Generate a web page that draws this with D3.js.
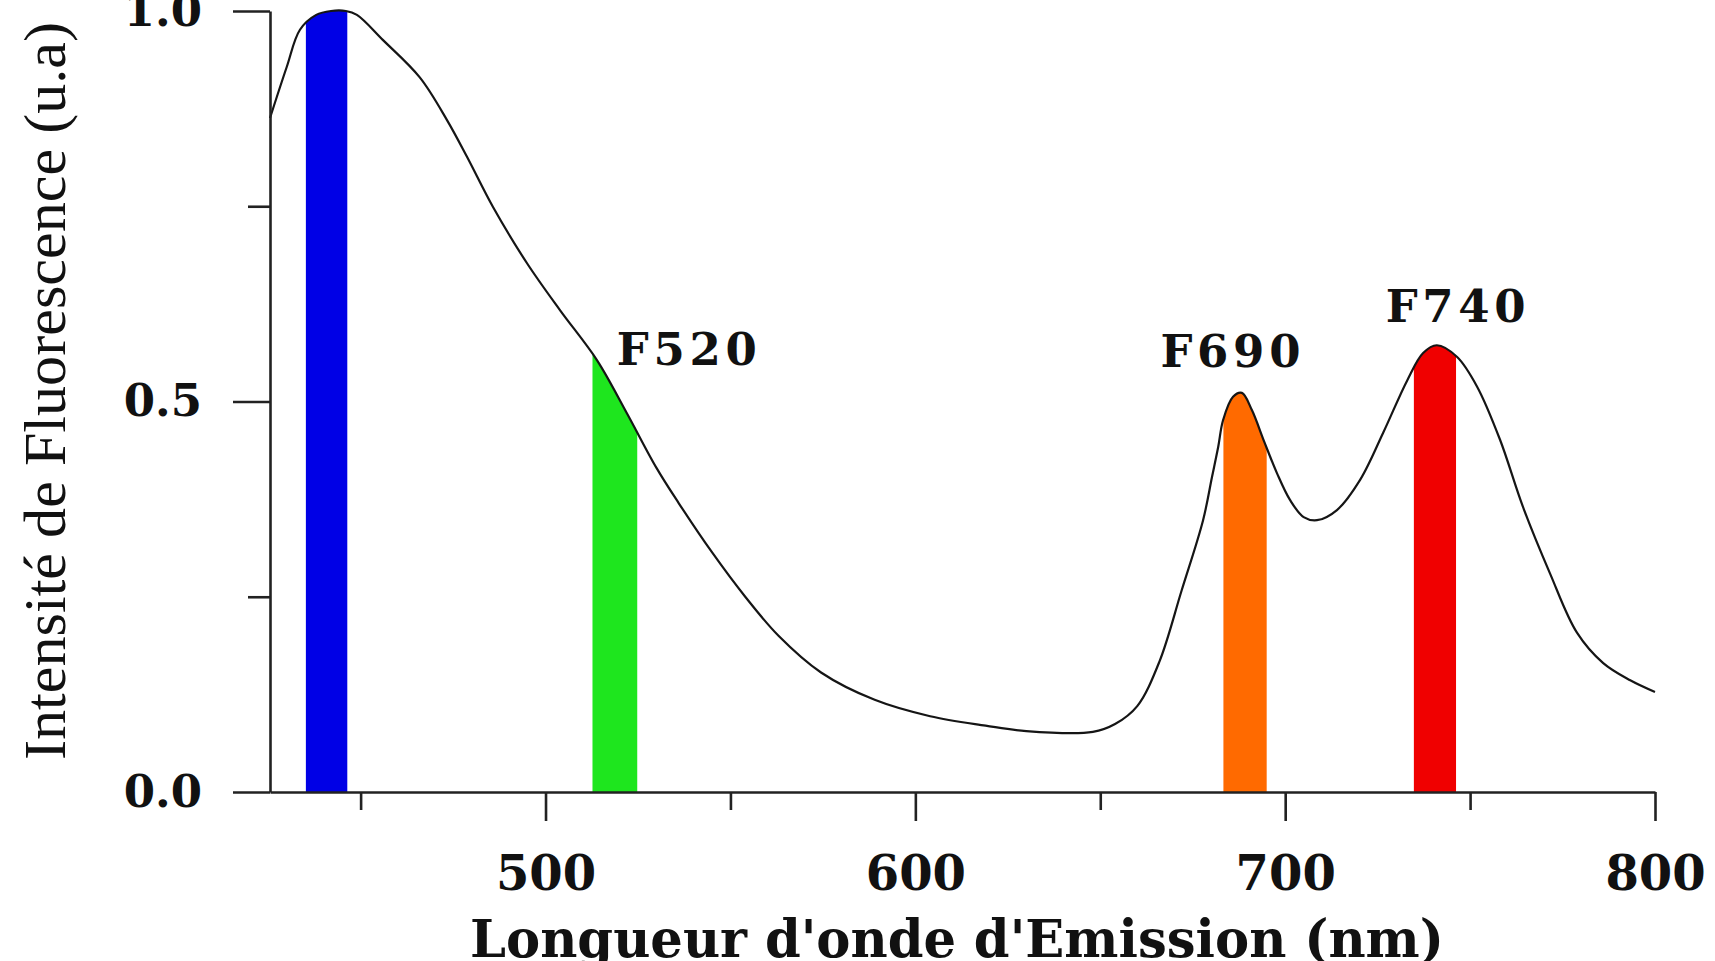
<!DOCTYPE html>
<html>
<head>
<meta charset="utf-8">
<script src="https://cdn.jsdelivr.net/npm/d3@7/dist/d3.min.js"></script>
<style>
  html, body { margin: 0; padding: 0; background: #fff; }
  svg { display: block; }
</style>
</head>
<body>
<svg id="chart" width="1715" height="961"></svg>
<script>
// ---- data ----
const wavelength = [425.5, 430, 433.6, 438, 442, 446, 449, 456, 466, 473.4, 478.8, 485.8, 495, 503.9, 513.9, 522, 530, 536, 545, 554, 563, 574.5, 589, 604, 619, 630, 648, 654, 660, 666, 672, 677.8, 680.2, 681.9, 683.2, 685.9, 688.3, 691, 694.3, 697.8, 701.3, 705, 708.6, 714, 720.3, 726.5, 733, 737.3, 741, 746.5, 751.9, 758.1, 764.3, 771.6, 778.9, 786, 793.3, 800];
const intensity  = [0.863, 0.928, 0.976, 0.995, 1.0, 1.0, 0.995, 0.963, 0.915, 0.86, 0.813, 0.749, 0.677, 0.617, 0.553, 0.485, 0.415, 0.37, 0.307, 0.25, 0.20, 0.153, 0.118, 0.097, 0.085, 0.078, 0.077, 0.087, 0.11, 0.167, 0.258, 0.348, 0.403, 0.442, 0.476, 0.506, 0.511, 0.489, 0.449, 0.408, 0.374, 0.352, 0.348, 0.361, 0.40, 0.46, 0.527, 0.562, 0.572, 0.557, 0.519, 0.451, 0.365, 0.28, 0.204, 0.165, 0.143, 0.128];

const bandStart  = [435.2, 512.7, 683.3, 734.8];
const bandEnd    = [446.4, 524.8, 695.0, 746.2];
const bandColors = ["#0000e6", "#1ee61e", "#ff6a00", "#f00000"];

const labelText  = ["F520", "F690", "F740"];
const labelX     = [538.2, 685.2, 746.1];
const labelY     = [0.547, 0.544, 0.602];

const xMajorTicks = [500, 600, 700, 800];
const xMinorTicks = [450, 550, 650, 750];
const yMajorTicks = [0, 0.5, 1.0];
const yMajorLabels = ["0.0", "0.5", "1.0"];
const yMinorTicks = [0.25, 0.75];

const xTitle = "Longueur d'onde d'Emission (nm)";
const yTitle = "Intensité de Fluorescence (u.a)";

// ---- layout ----
const svg = d3.select("#chart");
const x = d3.scaleLinear().domain([425.5, 800]).range([270, 1655]);
const y = d3.scaleLinear().domain([0, 1]).range([792, 11]);

const pts = wavelength.map((w, i) => [w, intensity[i]]);
const curveType = d3.curveCatmullRom.alpha(0.5);

svg.append("rect").attr("width", 1715).attr("height", 961).attr("fill", "#fff");

// clip region under the curve
const area = d3.area()
  .x(d => x(d[0])).y0(y(0)).y1(d => y(d[1]))
  .curve(curveType);
svg.append("clipPath").attr("id", "under")
  .append("path").attr("d", area(pts));

// coloured bands
svg.append("g").attr("clip-path", "url(#under)")
  .selectAll("rect").data(bandStart).join("rect")
  .attr("x", (d, i) => x(d))
  .attr("width", (d, i) => x(bandEnd[i]) - x(d))
  .attr("y", 0)
  .attr("height", y(0))
  .attr("fill", (d, i) => bandColors[i]);

// spectrum line
const line = d3.line().x(d => x(d[0])).y(d => y(d[1])).curve(curveType);
svg.append("path").attr("d", line(pts))
  .attr("fill", "none").attr("stroke", "#151515").attr("stroke-width", 2.2);

// axes
const axisStyle = g => {
  g.selectAll("path, line").attr("stroke", "#222").attr("stroke-width", 2.6);
};

svg.append("g").attr("transform", `translate(0,${y(0)})`)
  .call(d3.axisBottom(x).tickValues(xMajorTicks).tickFormat(d3.format("d"))
        .tickSize(29).tickPadding(35).tickSizeOuter(0))
  .call(axisStyle)
  .call(g => g.selectAll("text")
    .attr("font-family", "'DejaVu Serif', serif").attr("font-weight", "bold")
    .attr("font-size", 48).attr("fill", "#111"));

svg.append("g").attr("transform", `translate(0,${y(0)})`)
  .call(d3.axisBottom(x).tickValues(xMinorTicks).tickFormat("").tickSize(18).tickSizeOuter(0))
  .call(axisStyle)
  .call(g => g.select(".domain").remove());

svg.append("g").attr("transform", `translate(${x(425.5)},0)`)
  .call(d3.axisLeft(y).tickValues(yMajorTicks).tickFormat((d, i) => yMajorLabels[i])
        .tickSize(37).tickPadding(31).tickSizeOuter(0))
  .call(axisStyle)
  .call(g => g.selectAll("text")
    .attr("font-family", "'DejaVu Serif', serif").attr("font-weight", "bold")
    .attr("font-size", 45).attr("fill", "#111"));

svg.append("g").attr("transform", `translate(${x(425.5)},0)`)
  .call(d3.axisLeft(y).tickValues(yMinorTicks).tickFormat("").tickSize(22).tickSizeOuter(0))
  .call(axisStyle)
  .call(g => g.select(".domain").remove());

// peak labels
svg.append("g").selectAll("text").data(labelText).join("text")
  .attr("x", (d, i) => x(labelX[i]))
  .attr("y", (d, i) => y(labelY[i]))
  .attr("text-anchor", "middle")
  .attr("font-family", "'DejaVu Serif', serif")
  .attr("font-weight", "bold")
  .attr("font-size", 45)
  .attr("textLength", 140)
  .attr("lengthAdjust", "spacing")
  .attr("fill", "#111")
  .text(d => d);

// axis titles
svg.append("text")
  .attr("x", 957).attr("y", 957)
  .attr("text-anchor", "middle")
  .attr("font-family", "'DejaVu Serif', serif")
  .attr("font-weight", "bold")
  .attr("font-size", 52)
  .attr("textLength", 974)
  .attr("lengthAdjust", "spacingAndGlyphs")
  .attr("fill", "#111")
  .text(xTitle);

svg.append("text")
  .attr("transform", "translate(65,391) rotate(-90)")
  .attr("text-anchor", "middle")
  .attr("font-family", "'Liberation Serif', 'Times New Roman', serif")
  .attr("font-size", 60)
  .attr("textLength", 738)
  .attr("lengthAdjust", "spacingAndGlyphs")
  .attr("fill", "#111")
  .text(yTitle);
</script>
</body>
</html>
